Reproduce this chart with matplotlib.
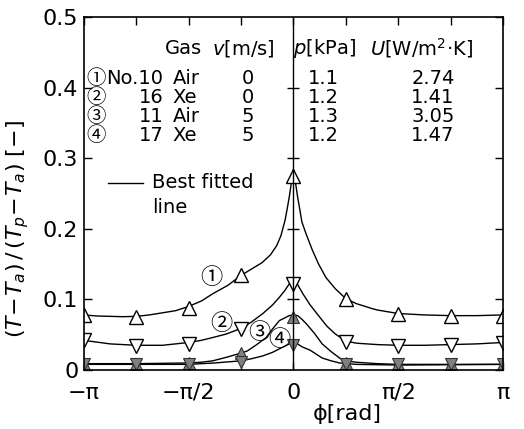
import numpy as np
import matplotlib.pyplot as plt

plt.rcParams['font.family'] = ['DejaVu Sans', 'Noto Sans CJK JP']
plt.rcParams['mathtext.fontset'] = 'dejavusans'

# measured points (phi in units of pi)
phi_pts = [-1, -0.75, -0.5, -0.25, 0, 0.25, 0.5, 0.75, 1]
run1 = [0.078, 0.075, 0.088, 0.134, 0.275, 0.100, 0.079, 0.076, 0.077]
run2 = [0.043, 0.034, 0.037, 0.058, 0.122, 0.039, 0.034, 0.036, 0.038]
run3 = [0.009, 0.009, 0.010, 0.024, 0.075, 0.010, 0.008, 0.008, 0.008]
run4 = [0.009, 0.009, 0.009, 0.012, 0.035, 0.009, 0.008, 0.008, 0.008]

# best fitted lines
fit1_x = [-1, -0.9375, -0.875, -0.8125, -0.75, -0.6875, -0.625, -0.5625, -0.5, -0.4375,
          -0.385, -0.3125, -0.25, -0.2, -0.15, -0.11, -0.08, -0.06, -0.04, -0.03, -0.02, -0.01, 0,
          0.01, 0.02, 0.03, 0.04, 0.06, 0.09, 0.12, 0.155, 0.2, 0.25, 0.3, 0.375, 0.4, 0.5,
          0.625, 0.75, 0.875, 1]
fit1_y = [0.078, 0.0765, 0.076, 0.0755, 0.076, 0.078, 0.081, 0.084, 0.090, 0.098,
          0.108, 0.120, 0.134, 0.143, 0.152, 0.163, 0.176, 0.190, 0.212, 0.228, 0.245, 0.265, 0.284,
          0.265, 0.245, 0.228, 0.21, 0.193, 0.17, 0.150, 0.131, 0.115, 0.101, 0.094, 0.087, 0.085, 0.080,
          0.078, 0.077, 0.077, 0.078]
fit2_x = [-1, -0.875, -0.75, -0.625, -0.5, -0.44, -0.385, -0.32, -0.25, -0.2, -0.146, -0.1,
          -0.067, -0.04, -0.02, 0, 0.02, 0.045, 0.08, 0.125, 0.16, 0.2, 0.25, 0.3, 0.4, 0.5,
          0.625, 0.75, 0.875, 1]
fit2_y = [0.042, 0.037, 0.035, 0.035, 0.039, 0.042, 0.046, 0.051, 0.059, 0.068, 0.080, 0.092,
          0.103, 0.113, 0.122, 0.127, 0.121, 0.108, 0.092, 0.075, 0.062, 0.051, 0.041, 0.038, 0.036,
          0.035, 0.035, 0.036, 0.037, 0.039]
fit3_x = [-1, -0.75, -0.5, -0.44, -0.385, -0.32, -0.25, -0.22, -0.18, -0.13, -0.1, -0.067,
          -0.04, -0.02, 0, 0.02, 0.04, 0.06, 0.1, 0.137, 0.18, 0.22, 0.25, 0.3, 0.4, 0.5, 1]
fit3_y = [0.009, 0.009, 0.010, 0.011, 0.013, 0.018, 0.024, 0.027, 0.035, 0.046, 0.058, 0.070,
          0.074, 0.077, 0.078, 0.077, 0.072, 0.066, 0.052, 0.037, 0.026, 0.017, 0.013, 0.011, 0.009,
          0.008, 0.008]
fit4_x = [-1, -0.75, -0.5, -0.375, -0.25, -0.2, -0.146, -0.1, -0.067, -0.04, -0.02, 0,
          0.02, 0.04, 0.08, 0.137, 0.18, 0.22, 0.3, 0.5, 1]
fit4_y = [0.008, 0.008, 0.008, 0.010, 0.013, 0.016, 0.020, 0.025, 0.030, 0.034, 0.037, 0.038,
          0.037, 0.033, 0.028, 0.017, 0.013, 0.010, 0.008, 0.007, 0.008]

# table
tab_head = ['Gas', '$v$[m/s]', '$p$[kPa]', '$U$[W/m$^2$·K]']
tab_mark = ['①', '②', '③', '④']
tab_no = ['No.10', '16', '11', '17']
tab_gas = ['Air', 'Xe', 'Air', 'Xe']
tab_v = ['0', '0', '5', '5']
tab_p = ['1.1', '1.2', '1.3', '1.2']
tab_U = ['2.74', '1.41', '3.05', '1.47']

circ = ['Noto Sans CJK JP', 'DejaVu Sans']

fig = plt.figure(figsize=(5.24, 4.29), dpi=100)
ax = fig.add_axes([0.160, 0.1375, 0.800, 0.823])

pi = np.pi
for fx, fy in [(fit1_x, fit1_y), (fit2_x, fit2_y), (fit3_x, fit3_y), (fit4_x, fit4_y)]:
    ax.plot(np.array(fx) * pi, fy, color='black', lw=1.0)

px = np.array(phi_pts) * pi
ms = 10
ax.plot(px, run1, ls='none', marker='^', ms=ms, mfc='white', mec='black', mew=1.0)
ax.plot(px, run2, ls='none', marker='v', ms=ms, mfc='white', mec='black', mew=1.0)
ax.plot(px, run3, ls='none', marker='^', ms=ms - 1, mfc='#808080', mec='#333333', mew=0.8)
ax.plot(px, run4, ls='none', marker='v', ms=ms - 1, mfc='#808080', mec='#333333', mew=0.8)

# centre line with its own ticks
ax.axvline(0, color='black', lw=1.0)
yt = [0.1, 0.2, 0.3, 0.4]
ax.plot([0] * len(yt), yt, ls='none', marker='_', ms=9, mec='black', mew=1.0)

ax.set_xlim(-pi, pi)
ax.set_ylim(0, 0.5)
ax.set_xticks(np.arange(-4, 5) * pi / 4)
ax.set_xticklabels(['−π', '', '−π/2', '', '0', '', 'π/2', '', 'π'])
ax.set_yticks([0, 0.1, 0.2, 0.3, 0.4, 0.5])
ax.set_yticklabels(['0', '0.1', '0.2', '0.3', '0.4', '0.5'])
ax.tick_params(direction='in', length=6, width=1, top=True, right=True, labelsize=16)
ax.tick_params(axis='x', pad=9)
ax.tick_params(axis='y', pad=4)
for s in ax.spines.values():
    s.set_linewidth(1.2)

ax.set_xlabel('ϕ[rad]', fontsize=16)
ax.xaxis.set_label_coords(0.628, -0.097)
ax.set_ylabel(r'$(T\!-\!T_a)\,/\,(T_p\!-\!T_a)$ [$-$]', fontsize=16)
ax.yaxis.set_label_coords(-0.125, 0.40)

# table text (axes fraction)
fs = 14
hy = 0.911
ax.text(0.193, hy, tab_head[0], transform=ax.transAxes, fontsize=fs, va='center')
ax.text(0.305, hy, tab_head[1], transform=ax.transAxes, fontsize=fs, va='center')
ax.text(0.499, hy, tab_head[2], transform=ax.transAxes, fontsize=fs, va='center')
ax.text(0.683, hy, tab_head[3], transform=ax.transAxes, fontsize=fs, va='center')
row_y = [0.826, 0.772, 0.718, 0.664]
for i, yy in enumerate(row_y):
    ax.text(0.030, yy, tab_mark[i], transform=ax.transAxes, fontsize=14, va='center',
            ha='center', family=circ)
    ax.text(0.190, yy, tab_no[i], transform=ax.transAxes, fontsize=fs, va='center', ha='right')
    ax.text(0.212, yy, tab_gas[i], transform=ax.transAxes, fontsize=fs, va='center')
    ax.text(0.391, yy, tab_v[i], transform=ax.transAxes, fontsize=fs, va='center', ha='center')
    ax.text(0.571, yy, tab_p[i], transform=ax.transAxes, fontsize=fs, va='center', ha='center')
    ax.text(0.833, yy, tab_U[i], transform=ax.transAxes, fontsize=fs, va='center', ha='center')

# legend
ax.plot([0.057, 0.14], [0.531, 0.531], transform=ax.transAxes, color='black', lw=1.0)
ax.text(0.162, 0.531, 'Best fitted', transform=ax.transAxes, fontsize=fs, va='center')
ax.text(0.162, 0.46, 'line', transform=ax.transAxes, fontsize=fs, va='center')

# curve labels
ax.text(-1.23, 0.131, '①', fontsize=16, ha='center', va='center', family=circ)
ax.text(-1.08, 0.066, '②', fontsize=16, ha='center', va='center', family=circ)
ax.text(-0.51, 0.053, '③', fontsize=16, ha='center', va='center', family=circ)
ax.text(-0.21, 0.043, '④', fontsize=16, ha='center', va='center', family=circ)

plt.savefig('out.png', dpi=100)
plt.close()
